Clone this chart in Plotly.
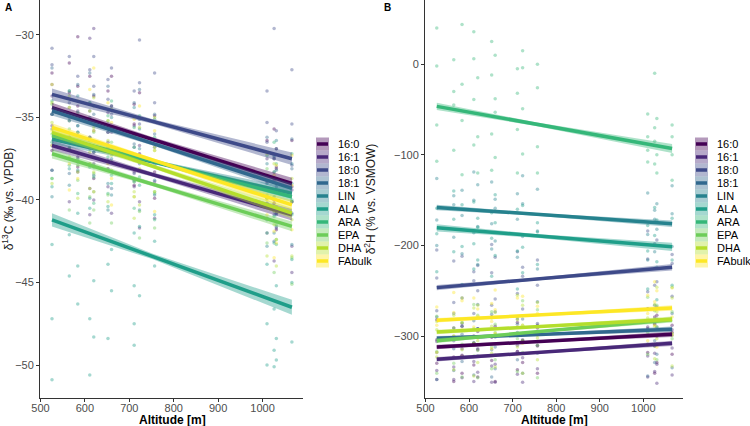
import plotly.graph_objects as go

# sampling altitudes (m) shared by both panels
ALTITUDE = [526, 565, 584, 611, 620, 652, 660, 711, 723, 757, 1010, 1026, 1031, 1066]
FATTY_ACIDS = ["16:0", "16:1", "18:0", "18:1", "LIN", "ALA", "ARA", "EPA", "DHA", "FAbulk"]

# d13C values per fatty acid, one list per altitude
D13C_POINTS = {
    "16:0": [[-32.3, -34.8, -37.0], [-33.5, -36.2, -31.7], [-38.0, -34.3, -33.1, -30.1], [-32.5, -36.2, -35.3],
             [-37.1, -33.7, -38.7], [-33.4, -35.9, -38.1], [-34.3, -37.0, -32.5], [-39.1, -35.4, -34.2],
             [-33.5, -37.2, -36.3], [-38.3, -34.9, -39.9], [-36.4, -38.9, -41.1], [-37.5, -40.2, -35.7],
             [-41.8, -38.1, -36.9], [-36.4, -40.1, -39.2]],
    "16:1": [[-35.5, -38.2, -33.7], [-40.1, -36.4, -35.2], [-34.6, -38.3, -37.4], [-39.3, -30.2, -40.9],
             [-29.6, -37.8, -40.0], [-36.5, -39.2, -34.7], [-40.8, -37.1, -35.9], [-35.5, -39.2, -38.3],
             [-40.1, -36.7, -41.7], [-36.4, -38.9, -41.1], [-39.3, -42.0, -37.5], [-43.7, -40.0, -38.8],
             [-38.0, -41.7, -40.8], [-42.8, -39.4, -44.4]],
    "18:0": [[-36.7, -33.0, -31.8, -30.8], [-31.3, -35.0, -34.1], [-35.9, -32.5, -37.5], [-32.1, -34.6, -36.8],
             [-33.1, -35.8, -31.3], [-37.6, -33.9, -32.7], [-32.0, -35.7, -34.8], [-36.8, -33.4, -38.4],
             [-32.9, -35.4, -37.6, -30.3], [-34.1, -36.8, -32.3], [-40.2, -36.5, -35.3, -33.4],
             [-29.6, -38.3, -37.4], [-39.2, -35.8, -40.8], [-35.4, -37.9, -40.1, -32.1]],
    "18:1": [[-32.0, -35.7, -34.8], [-36.8, -33.4, -38.4], [-33.0, -35.5, -37.7], [-34.1, -36.8, -32.3],
             [-38.5, -34.8, -33.6], [-33.1, -36.8, -35.9], [-37.7, -34.3, -39.3], [-34.1, -36.6, -38.8],
             [-35.1, -37.8, -33.3], [-39.7, -36.0, -34.8], [-36.2, -39.9, -39.0], [-40.9, -37.5, -42.5],
             [-36.9, -39.4, -41.6], [-38.1, -40.8, -36.3]],
    "LIN": [[-38.2, -34.8, -39.8], [-34.4, -36.9, -39.1], [-35.5, -38.2, -33.7], [-39.9, -36.2, -35.0],
            [-34.3, -38.0, -37.1], [-39.0, -35.6, -40.6], [-35.0, -37.5, -39.7], [-36.2, -38.9, -34.4],
            [-40.6, -36.9, -35.7], [-35.1, -38.8, -37.9], [-41.2, -37.8, -42.8], [-37.3, -39.8, -42.0],
            [-38.2, -40.9, -36.4], [-42.7, -39.0, -37.8]],
    "ALA": [[-39.2, -42.7, -47.2, -50.9], [-38.1, -44.6, -42.1], [-46.3, -40.8, -44.0], [-40.5, -47.2, -38.0, -50.6],
            [-44.9, -39.5, -48.3], [-40.4, -43.9, -48.4], [-39.0, -45.5, -43.0], [-47.5, -42.0, -45.2, -48.8],
            [-41.6, -45.8, -39.1], [-44.0, -40.9, -42.5], [-43.9, -47.5, -50.0], [-42.6, -49.1, -46.6, -50.1],
            [-49.7, -45.2, -48.4], [-45.0, -48.6, -43.6]],
    "ARA": [[-34.0, -36.5, -38.7], [-35.2, -37.9, -33.4], [-39.6, -35.9, -34.7], [-34.1, -37.8, -36.9],
            [-38.6, -35.2, -40.2], [-34.9, -37.4, -39.6], [-35.8, -38.5, -34.0], [-40.5, -36.8, -35.6],
            [-34.9, -38.6, -37.7], [-39.6, -36.2, -41.2], [-37.3, -39.8, -42.0], [-38.3, -41.0, -36.5],
            [-42.7, -39.0, -37.8], [-37.2, -40.9, -40.0]],
    "EPA": [[-36.0, -38.7, -34.2], [-40.6, -36.9, -35.7], [-35.1, -38.8, -37.9], [-39.8, -36.4, -41.4],
            [-35.9, -38.4, -40.6], [-37.0, -39.7, -35.2], [-41.4, -37.7, -36.5], [-36.1, -39.8, -38.9],
            [-40.7, -37.3, -42.3], [-37.0, -39.5, -41.7], [-39.9, -42.6, -38.1], [-44.4, -40.7, -39.5],
            [-38.7, -42.4, -41.5], [-43.5, -40.1, -45.1]],
    "DHA": [[-39.0, -35.3, -34.1], [-33.7, -37.4, -36.5], [-38.3, -34.9, -39.9], [-34.6, -37.1, -39.3],
            [-35.6, -38.3, -33.8], [-40.1, -36.4, -35.2], [-34.5, -38.2, -37.3], [-39.5, -36.1, -41.1],
            [-35.6, -38.1, -40.3], [-36.8, -39.5, -35.0], [-43.4, -39.7, -38.5], [-37.8, -41.5, -40.6],
            [-42.4, -39.0, -44.0], [-38.7, -41.2, -43.4]],
    "FAbulk": [[-33.0, -36.7, -35.8], [-37.8, -34.4, -39.4], [-34.0, -36.5, -38.7], [-35.1, -37.8, -33.3],
               [-39.5, -35.8, -32.0], [-34.1, -37.8, -36.9], [-38.7, -35.3, -40.3], [-35.1, -37.6, -39.8],
               [-36.1, -38.8, -34.3], [-40.7, -37.0, -35.8], [-37.2, -40.9, -40.0], [-41.9, -38.5, -43.5],
               [-37.9, -40.4, -42.6], [-39.1, -41.8, -37.3]],
}

# d2H values per fatty acid, one list per altitude
D2H_POINTS = {
    "16:0": [[-282, -330, -304], [-323, -291, -350], [-289, -321, -341], [-300, -332, -308], [-345, -295, -315],
             [-279, -327, -301], [-321, -289, -350], [-285, -317, -337], [-297, -329, -305], [-341, -291, -311],
             [-270, -318, -292], [-311, -279, -341], [-277, -309, -329], [-288, -320, -296]],
    "16:1": [[-338, -306, -348], [-302, -334, -348], [-314, -346, -322], [-350, -308, -328], [-292, -340, -314],
             [-333, -301, -351], [-299, -331, -351], [-310, -342, -317], [-351, -304, -324], [-288, -336, -310],
             [-322, -290, -345], [-287, -319, -339], [-300, -331, -352], [-343, -293, -313]],
    "18:0": [[-205, -272, -236], [-263, -217, -305], [-212, -258, -286], [-229, -275, -239], [-292, -222, -250],
             [-199, -266, -230], [-259, -213, -301], [-207, -253, -281], [-224, -270, -234], [-286, -216, -244],
             [-184, -251, -215], [-244, -198, -286], [-194, -240, -268], [-210, -256, -220]],
    "18:1": [[-318, -279, -348], [-275, -314, -338], [-289, -328, -298], [-343, -283, -307], [-265, -322, -292],
             [-315, -276, -345], [-273, -312, -336], [-287, -326, -296], [-341, -281, -305], [-262, -319, -289],
             [-309, -270, -344], [-266, -305, -329], [-281, -320, -290], [-335, -275, -299]],
    "LIN": [[-126, -172, -200], [-145, -191, -155], [-209, -139, -167], [-119, -186, -150], [-179, -133, -221],
            [-130, -176, -204], [-149, -195, -159], [-213, -143, -171], [-123, -190, -154], [-184, -138, -226],
            [-142, -188, -216], [-161, -207, -171], [-224, -154, -182], [-134, -201, -165]],
    "ALA": [[-229, -159, -187], [-140, -207, -171], [-201, -155, -243], [-152, -198, -226], [-170, -216, -180],
            [-234, -164, -192], [-144, -211, -175], [-206, -160, -248], [-156, -202, -230], [-175, -221, -185],
            [-248, -178, -206], [-158, -225, -189], [-218, -172, -260], [-170, -216, -244]],
    "ARA": [[40, -2, -67, -107], [5, -30, -95, -45], [44, -22, -62, -122], [36, 6, -89, -39], [-80, -15, -120],
            [25, -12, -77, -117], [10, -38, -103, -53], [-5, -32, -72, -120], [15, -4, -99, -49],
            [0, -91, -26, -120], [-55, -80, -108, -95], [-10, -70, -110, -85], [-120, -60, -100],
            [-67, -80, -100, -128]],
    "EPA": [[-278, -317, -341], [-291, -330, -300], [-345, -285, -309], [-265, -322, -292], [-316, -277, -346],
            [-273, -312, -336], [-287, -326, -296], [-339, -279, -303], [-261, -318, -288], [-310, -271, -346],
            [-257, -296, -320], [-272, -311, -281], [-326, -266, -290], [-246, -303, -273]],
    "DHA": [[-284, -323, -293], [-337, -277, -301], [-258, -315, -285], [-308, -269, -344], [-266, -305, -329],
            [-280, -319, -289], [-334, -274, -298], [-255, -312, -282], [-305, -266, -341], [-263, -302, -326],
            [-271, -310, -280], [-325, -265, -289], [-246, -303, -273], [-297, -258, -333]],
    "FAbulk": [[-318, -268, -288], [-252, -300, -274], [-293, -261, -323], [-258, -290, -310], [-270, -302, -278],
               [-314, -264, -284], [-249, -297, -271], [-290, -258, -320], [-256, -288, -308], [-267, -299, -275],
               [-305, -255, -275], [-240, -288, -262], [-282, -250, -312], [-247, -279, -299]],
}

# linear fit: value at lowest and highest altitude
D13C_FIT = {"16:0": (-34.4, -39.0), "16:1": (-36.7, -40.9), "18:0": (-33.6, -37.5), "18:1": (-34.6, -39.3),
            "LIN": (-36.3, -39.6), "ALA": (-41.2, -46.5), "ARA": (-36.1, -39.8), "EPA": (-37.2, -41.6),
            "DHA": (-35.9, -40.8), "FAbulk": (-35.6, -40.3)}
D2H_FIT = {"16:0": (-312, -298), "16:1": (-325.5, -308), "18:0": (-246.5, -224), "18:1": (-302.5, -292.5),
           "LIN": (-158, -176), "ALA": (-180.5, -201.5), "ARA": (-46.5, -93), "EPA": (-305, -282),
           "DHA": (-295.5, -281.5), "FAbulk": (-282.5, -269)}

# 95% CI half width: at lowest altitude, mean altitude, highest altitude
D13C_CI = {"16:0": (0.30, 0.13, 0.35), "16:1": (0.30, 0.13, 0.35), "18:0": (0.35, 0.14, 0.38),
           "18:1": (0.28, 0.12, 0.30), "LIN": (0.30, 0.12, 0.32), "ALA": (0.40, 0.17, 0.45),
           "ARA": (0.30, 0.12, 0.32), "EPA": (0.28, 0.12, 0.30), "DHA": (0.30, 0.12, 0.32),
           "FAbulk": (0.25, 0.10, 0.28)}
D2H_CI = {"16:0": (2.5, 1.2, 3.0), "16:1": (2.5, 1.2, 3.0), "18:0": (3.0, 1.5, 3.5), "18:1": (2.5, 1.2, 3.0),
          "LIN": (3.0, 1.5, 3.5), "ALA": (4.0, 2.0, 4.5), "ARA": (4.0, 2.0, 5.0), "EPA": (2.5, 1.2, 3.0),
          "DHA": (2.5, 1.2, 3.0), "FAbulk": (2.5, 1.2, 3.0)}

PALETTE = ["#440154", "#482878", "#3E4A89", "#31688E", "#26828E",
           "#1F9E89", "#35B779", "#6DCD59", "#B4DE2C", "#FDE725"]
FONT = "Liberation Sans, Arial, sans-serif"

# page geometry (px) used to place the hand-built ggplot-style legends
W, H = 750, 426
M_L, M_B = 40, 28
PLOT_W, PLOT_H = W - M_L, H - M_B
KEY = 13          # legend key size
KEY_TOP = 137.5   # top of first key


def rgba(hex_col, alpha):
    h = hex_col.lstrip("#")
    r, g, b = (int(h[i:i + 2], 16) for i in (0, 2, 4))
    return f"rgba({r},{g},{b},{alpha})"


def px_x(px):
    return (px - M_L) / PLOT_W


def px_y(py):
    return 1 - py / PLOT_H


def add_panel(fig, points, fit, ci, xaxis, yaxis):
    x_lo, x_hi = min(ALTITUDE), max(ALTITUDE)
    x_mid = sum(ALTITUDE) / len(ALTITUDE)

    for fa, col in zip(FATTY_ACIDS, PALETTE):
        xs, ys = [], []
        for alt, vals in zip(ALTITUDE, points[fa]):
            xs += [alt] * len(vals)
            ys += vals
        fig.add_trace(go.Scatter(
            x=xs, y=ys, mode="markers", showlegend=False, hoverinfo="skip",
            marker=dict(color=col, size=3.5, opacity=0.4),
            xaxis=xaxis, yaxis=yaxis))

    for fa, col in zip(FATTY_ACIDS, PALETTE):
        y0, y1 = fit[fa]
        y_mid = y0 + (y1 - y0) * (x_mid - x_lo) / (x_hi - x_lo)
        c0, cm, c1 = ci[fa]
        fig.add_trace(go.Scatter(
            x=[x_lo, x_mid, x_hi, x_hi, x_mid, x_lo],
            y=[y0 + c0, y_mid + cm, y1 + c1, y1 - c1, y_mid - cm, y0 - c0],
            fill="toself", fillcolor=rgba(col, 0.4), mode="lines",
            line=dict(width=0), showlegend=False, hoverinfo="skip",
            xaxis=xaxis, yaxis=yaxis))
        fig.add_trace(go.Scatter(
            x=[x_lo, x_hi], y=[y0, y1], mode="lines", name=fa, showlegend=False,
            line=dict(color=col, width=3.5), xaxis=xaxis, yaxis=yaxis))


def legend_items(key_left):
    shapes, notes = [], []
    for i, (fa, col) in enumerate(zip(FATTY_ACIDS, PALETTE)):
        top = KEY_TOP + i * KEY
        mid = top + KEY / 2
        shapes.append(dict(type="rect", xref="paper", yref="paper", layer="above",
                           x0=px_x(key_left), x1=px_x(key_left + KEY), y0=px_y(top + KEY), y1=px_y(top),
                           fillcolor=rgba(col, 0.4), line=dict(width=0)))
        shapes.append(dict(type="line", xref="paper", yref="paper", layer="above",
                           x0=px_x(key_left + 1), x1=px_x(key_left + KEY - 1), y0=px_y(mid), y1=px_y(mid),
                           line=dict(color=col, width=3.5)))
        notes.append(dict(text=fa, xref="paper", yref="paper", x=px_x(key_left + 20), y=px_y(mid),
                          xanchor="left", yanchor="middle", showarrow=False,
                          font=dict(family=FONT, size=11, color="black")))
    return shapes, notes


fig = go.Figure()
add_panel(fig, D13C_POINTS, D13C_FIT, D13C_CI, "x", "y")
add_panel(fig, D2H_POINTS, D2H_FIT, D2H_CI, "x2", "y2")

xaxis_common = dict(
    range=[499, 1091], tick0=500, dtick=100, showline=True, linecolor="#333333", linewidth=1,
    ticks="outside", ticklen=3, tickcolor="#333333", showgrid=False, zeroline=False, automargin=False,
    ticklabelstandoff=-3, tickfont=dict(family=FONT, size=11, color="#4D4D4D"),
)
yaxis_common = dict(
    showline=True, linecolor="#333333", linewidth=1, ticks="outside", ticklen=3, tickcolor="#333333",
    showgrid=False, zeroline=False, automargin=False, tickfont=dict(family=FONT, size=11, color="#4D4D4D"),
)

shapes_a, notes_a = legend_items(316)
shapes_b, notes_b = legend_items(695)

x_titles = [
    dict(text="<b>Altitude [m]</b>", x=px_x(172), y=px_y(420), xref="paper", yref="paper",
         xanchor="center", yanchor="middle", showarrow=False, font=dict(family=FONT, size=12, color="black")),
    dict(text="<b>Altitude [m]</b>", x=px_x(554), y=px_y(420), xref="paper", yref="paper",
         xanchor="center", yanchor="middle", showarrow=False, font=dict(family=FONT, size=12, color="black")),
]
panel_tags = [
    dict(text="<b>A</b>", x=px_x(3), y=px_y(8), xref="paper", yref="paper", xanchor="left",
         yanchor="middle", showarrow=False, font=dict(family=FONT, size=10, color="black")),
    dict(text="<b>B</b>", x=px_x(382), y=px_y(8), xref="paper", yref="paper", xanchor="left",
         yanchor="middle", showarrow=False, font=dict(family=FONT, size=10, color="black")),
]

fig.update_layout(
    width=W, height=H,
    margin=dict(l=M_L, r=0, t=0, b=M_B, autoexpand=False),
    plot_bgcolor="white", paper_bgcolor="white",
    font=dict(family=FONT),
    showlegend=False,
    xaxis=dict(domain=[0, px_x(303)], anchor="y", **xaxis_common),
    xaxis2=dict(domain=[px_x(425), px_x(683)], anchor="y2", **xaxis_common),
    yaxis=dict(domain=[0, 1], anchor="x", range=[-52.0, -27.88], dtick=5,
               title=dict(text="δ<sup>13</sup>C (‰ vs. VPDB)", font=dict(family=FONT, size=12, color="#1a1a1a")),
               **yaxis_common),
    yaxis2=dict(domain=[0, 1], anchor="x2", range=[-368.3, 70.9], dtick=100,
                title=dict(text="δ<sup>2</sup>H (% vs. VSMOW)", font=dict(family=FONT, size=12, color="#1a1a1a")),
                **yaxis_common),
    shapes=shapes_a + shapes_b,
    annotations=notes_a + notes_b + x_titles + panel_tags,
)

# drop the browser's default 8px body margin so the figure fills the window exactly
fig.write_html("out.html", config={"displayModeBar": False},
               post_script="document.body.style.margin = '0';")
